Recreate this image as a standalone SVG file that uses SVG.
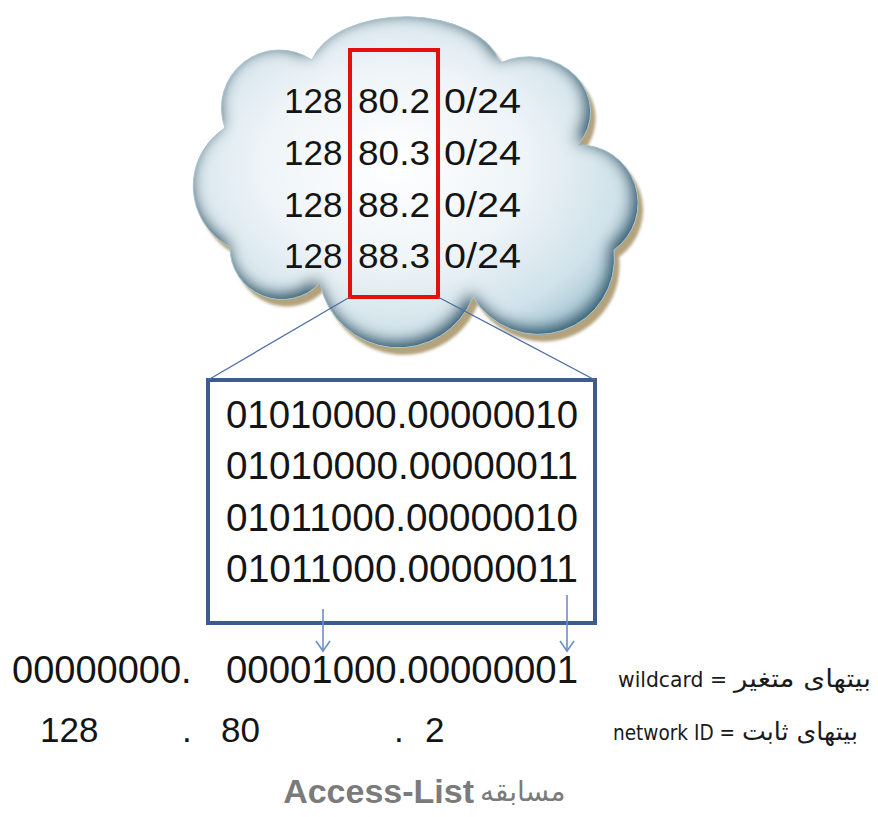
<svg xmlns="http://www.w3.org/2000/svg" width="878" height="817" viewBox="0 0 878 817">
<style>
.num{font-family:"Liberation Sans",Arial,sans-serif;fill:#141414}
.small{font-family:"DejaVu Sans","Liberation Sans",sans-serif;fill:#1a1a1a;font-size:21px}
.fa{font-family:"DejaVu Sans",sans-serif;fill:#1a1a1a;font-size:25px}
.title{font-family:"Liberation Sans",Arial,sans-serif;font-weight:bold;fill:#7b7b7b;font-size:34px}
.conn{stroke:#4e6fa3;stroke-width:1.3;fill:none}
.arr{stroke:#6a8fc8;stroke-width:1.6;fill:none}
</style>
<defs>
<radialGradient id="cloudFill" cx="0.45" cy="0.45" r="0.6">
<stop offset="0" stop-color="#ffffff"/>
<stop offset="0.5" stop-color="#eef4f8"/>
<stop offset="0.85" stop-color="#d0e2ea"/>
<stop offset="1" stop-color="#aecbd8"/>
</radialGradient>
<filter id="rim" x="-10%" y="-10%" width="120%" height="120%">
<feGaussianBlur in="SourceAlpha" stdDeviation="8" result="blur"/>
<feOffset in="blur" dx="-3" dy="-4" result="ob"/>
<feComposite in="SourceAlpha" in2="ob" operator="out" result="rim"/>
<feFlood flood-color="#2c6177" flood-opacity="1"/>
<feComposite in2="rim" operator="in" result="rimc"/>
<feMerge><feMergeNode in="SourceGraphic"/><feMergeNode in="rimc"/><feMergeNode in="rimc"/></feMerge>
</filter>
<filter id="soft" x="-10%" y="-10%" width="120%" height="120%">
<feGaussianBlur stdDeviation="1.5"/>
</filter>
<marker id="chev" viewBox="-12 -10 14 20" markerWidth="14" markerHeight="20" refX="0" refY="0" orient="auto" markerUnits="userSpaceOnUse">
<path d="M-10,-7 L0,0 L-10,7" stroke="#6a8fc8" stroke-width="1.6" fill="none"/>
</marker>
<path id="cloudShape" d="M225,128 A58,58 0 0 1 312,60 A96,56 0 0 1 500,63 A62,55 0 0 1 578,145 A58,58 0 0 1 614,250 A76,76 0 0 1 473,297 A80,80 0 0 1 320,283 A52,52 0 0 1 230,247 A69,69 0 0 1 225,128 Z"/>
</defs>

<g id="cloud">
<use href="#cloudShape" transform="translate(5,7)" fill="#b3a27c" filter="url(#soft)"/>
<use href="#cloudShape" fill="url(#cloudFill)" filter="url(#rim)"/>
<use href="#cloudShape" fill="none" stroke="#a9c6d2" stroke-width="1"/>
<g class="num" font-size="35">
<text x="284" y="113">128</text>
<text x="358" y="113" textLength="72" lengthAdjust="spacingAndGlyphs">80.2</text>
<text x="444" y="113" textLength="77" lengthAdjust="spacingAndGlyphs">0/24</text>
<text x="284" y="165">128</text>
<text x="358" y="165" textLength="72" lengthAdjust="spacingAndGlyphs">80.3</text>
<text x="444" y="165" textLength="77" lengthAdjust="spacingAndGlyphs">0/24</text>
<text x="284" y="217">128</text>
<text x="358" y="217" textLength="72" lengthAdjust="spacingAndGlyphs">88.2</text>
<text x="444" y="217" textLength="77" lengthAdjust="spacingAndGlyphs">0/24</text>
<text x="284" y="268">128</text>
<text x="358" y="268" textLength="72" lengthAdjust="spacingAndGlyphs">88.3</text>
<text x="444" y="268" textLength="77" lengthAdjust="spacingAndGlyphs">0/24</text>
</g>
</g>

<g id="selection">
<rect x="350" y="50" width="88" height="247" fill="none" stroke="#e3100f" stroke-width="4"/>
</g>

<g id="binary-box">
<rect x="208" y="380" width="387" height="243" fill="#ffffff" stroke="#3d5b8c" stroke-width="4"/>
<g class="num" font-size="38">
<text x="226" y="428" textLength="352" lengthAdjust="spacingAndGlyphs">01010000.00000010</text>
<text x="226" y="479" textLength="352" lengthAdjust="spacingAndGlyphs">01010000.00000011</text>
<text x="226" y="531" textLength="352" lengthAdjust="spacingAndGlyphs">01011000.00000010</text>
<text x="226" y="582" textLength="352" lengthAdjust="spacingAndGlyphs">01011000.00000011</text>
</g>
</g>

<g id="connectors">
<line class="conn" x1="350" y1="297" x2="208" y2="380"/>
<line class="conn" x1="438" y1="297" x2="595" y2="380"/>
<line class="arr" x1="323" y1="609" x2="323" y2="651" marker-end="url(#chev)"/>
<line class="arr" x1="567" y1="595" x2="567" y2="651" marker-end="url(#chev)"/>
</g>

<g id="wildcard-row">
<g class="num" font-size="38">
<text x="12" y="683">00000000.</text>
<text x="226" y="683" textLength="352" lengthAdjust="spacingAndGlyphs">00001000.00000001</text>
</g>
<text class="small" x="618" y="687" textLength="109" lengthAdjust="spacingAndGlyphs">wildcard =</text>
<text class="fa" x="871" y="687" text-anchor="end" textLength="137" lengthAdjust="spacingAndGlyphs">بیتهای متغیر</text>
</g>

<g id="network-row">
<g class="num" font-size="35">
<text x="40" y="742">128</text>
<text x="182" y="742">.</text>
<text x="221" y="742">80</text>
<text x="394" y="742">.</text>
<text x="425" y="742">2</text>
</g>
<text class="small" x="613" y="740" textLength="122" lengthAdjust="spacingAndGlyphs">network ID =</text>
<text class="fa" x="858" y="740" text-anchor="end" textLength="116" lengthAdjust="spacingAndGlyphs">بیتهای ثابت</text>
</g>

<g id="title">
<text class="title" x="474" y="803" text-anchor="end">Access-List</text>
<text x="480" y="801" font-family="DejaVu Sans, sans-serif" font-size="28" fill="#7b7b7b">مسابقه</text>
</g>
</svg>
